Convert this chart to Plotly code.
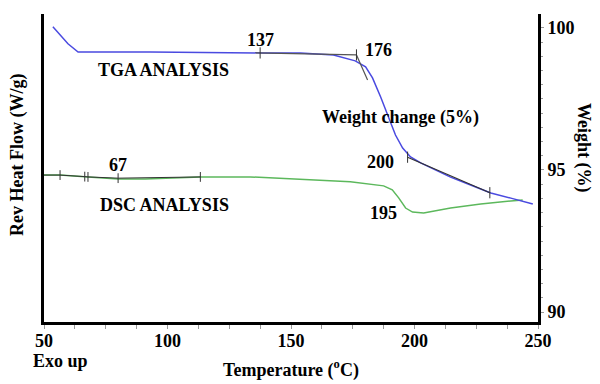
import plotly.graph_objects as go

# TGA curve (weight %, right axis)
tga_temp = [53.6, 56.5, 59.7, 63.8, 93.0, 138.4, 153.8, 167.2, 172.0, 176.0, 180.2, 183.0, 186.3,
            189.5, 192.3, 195.2, 198.4, 202.5, 208.6, 214.6, 222.7, 230.9, 239.0, 247.9]
tga_weight = [100.04, 99.75, 99.44, 99.15, 99.15, 99.12, 99.12, 99.05, 98.94, 98.84, 98.63, 98.24, 97.57,
              96.83, 96.23, 95.77, 95.46, 95.25, 95.00, 94.75, 94.47, 94.19, 94.01, 93.80]

# DSC curve (rev heat flow, left axis)
dsc_temp = [50.0, 56.5, 67.8, 80.0, 91.0, 113.3, 133.5, 153.8, 174.0, 187.5, 191.0, 193.6,
            196.4, 199.2, 203.7, 214.6, 226.8, 239.0, 243.8]
dsc_flow = [-0.523, -0.523, -0.529, -0.536, -0.536, -0.529, -0.529, -0.536, -0.545, -0.558, -0.571,
            -0.597, -0.630, -0.643, -0.646, -0.630, -0.617, -0.607, -0.604]

# tangent constructions
tga_tan1_temp = [135.6, 176.5, 181.0]
tga_tan1_weight = [99.12, 99.05, 98.17]
tga_tan2_temp = [197.2, 230.5]
tga_tan2_weight = [95.45, 94.20]
tga_tick_temp = [137.5, 176.5, 197.2, 230.5]
tga_tick_weight = [99.12, 99.05, 95.45, 94.20]
dsc_tan_temp = [50.0, 56.5, 66.5, 67.8, 80.0, 113.3]
dsc_tan_flow = [-0.523, -0.523, -0.528, -0.529, -0.533, -0.529]
dsc_tick_temp = [56.5, 66.5, 67.8, 80.0, 113.3]
dsc_tick_flow = [-0.523, -0.528, -0.529, -0.533, -0.529]

FONT = "Liberation Serif"
FS = 18

fig = go.Figure()
fig.add_trace(go.Scatter(x=dsc_temp, y=dsc_flow, mode="lines",
                         line=dict(color="#5cb85c", width=1.5), yaxis="y", showlegend=False))
fig.add_trace(go.Scatter(x=dsc_tan_temp, y=dsc_tan_flow, mode="lines",
                         line=dict(color="#333333", width=1), yaxis="y", showlegend=False))
fig.add_trace(go.Scatter(x=dsc_tick_temp, y=dsc_tick_flow, mode="markers",
                         marker=dict(symbol="line-ns", size=7, line=dict(color="#333333", width=1)),
                         yaxis="y", showlegend=False))
fig.add_trace(go.Scatter(x=tga_temp, y=tga_weight, mode="lines",
                         line=dict(color="#4a4ae0", width=1.5), yaxis="y2", showlegend=False))
fig.add_trace(go.Scatter(x=tga_tan1_temp, y=tga_tan1_weight, mode="lines",
                         line=dict(color="#555555", width=1.2), yaxis="y2", showlegend=False))
fig.add_trace(go.Scatter(x=tga_tan2_temp, y=tga_tan2_weight, mode="lines",
                         line=dict(color="#333333", width=1.2), yaxis="y2", showlegend=False))
fig.add_trace(go.Scatter(x=tga_tick_temp, y=tga_tick_weight, mode="markers",
                         marker=dict(symbol="line-ns", size=8, line=dict(color="#333333", width=1)),
                         yaxis="y2", showlegend=False))

txt = dict(family=FONT, size=FS, color="black")
ann = []
def a(x, y, t, yref):
    ann.append(dict(x=x, y=y, xref="x", yref=yref, text="<b>%s</b>" % t, showarrow=False,
                    xanchor="center", yanchor="middle", font=txt))

a(137.6, 99.58, "137", "y2")
a(185.4, 99.23, "176", "y2")
a(98.3, 98.52, "TGA ANALYSIS", "y2")
a(194.4, 96.86, "Weight change (5%)", "y2")
a(186.3, 95.28, "200", "y2")
a(80.0, -0.490, "67", "y")
a(98.7, -0.620, "DSC ANALYSIS", "y")
a(187.5, -0.646, "195", "y")

# text placed by page-pixel position (converted to paper coords below)
px_ann = [
    (60, 361, "Exo up", 0),
    (17, 155, "Rev Heat Flow (W/g)", -90),
    (584, 148, "Weight (%)", 90),
]

OFF = 8  # default page body margin
W, H = 592, 376
L, R, T, B = 36, 62, 6, 62
pw, ph = W - L - R, H - T - B
for px, py, t, ang in px_ann:
    fx, fy = px - OFF, py - OFF
    ann.append(dict(x=(fx - L) / pw, y=1 - (fy - T) / ph, xref="paper", yref="paper",
                    xanchor="center", yanchor="middle",
                    text="<b>%s</b>" % t, textangle=ang, showarrow=False, font=txt))

fig.update_layout(
    width=W, height=H,
    margin=dict(l=L, r=R, t=T, b=B, autoexpand=False),
    paper_bgcolor="white", plot_bgcolor="white",
    font=dict(family=FONT, size=FS, color="black"),
    annotations=ann,
    xaxis=dict(range=[50, 250], tickvals=[50, 100, 150, 200, 250],
               ticktext=["<b>50</b>", "<b>100</b>", "<b>150</b>", "<b>200</b>", "<b>250</b>"],
               ticks="",
               minor=dict(dtick=12.5, tick0=50, ticks="outside", ticklen=4, tickcolor="#999999"),
               showline=True, linecolor="black", linewidth=3, showgrid=False, zeroline=False,
               automargin=False,
               title=dict(text="<b>Temperature (<sup>o</sup>C)</b>", font=txt, standoff=14),
               tickfont=txt),
    yaxis=dict(range=[-1.0, 0.0], showticklabels=False, ticks="", showline=True,
               linecolor="black", linewidth=3, showgrid=False, zeroline=False, automargin=False),
    yaxis2=dict(range=[89.65, 100.49], overlaying="y", side="right",
                tickvals=[90, 95, 100], ticktext=["<b>90</b>", "<b>95</b>", "<b>100</b>"],
                ticks="outside", ticklen=3, tickcolor="#999999",
                minor=dict(dtick=0.5, tick0=90, ticks="outside", ticklen=2, tickcolor="#999999"),
                showline=True, linecolor="black", linewidth=3, showgrid=False, zeroline=False,
                automargin=False, tickfont=txt),
)
fig.write_html("out.html")
